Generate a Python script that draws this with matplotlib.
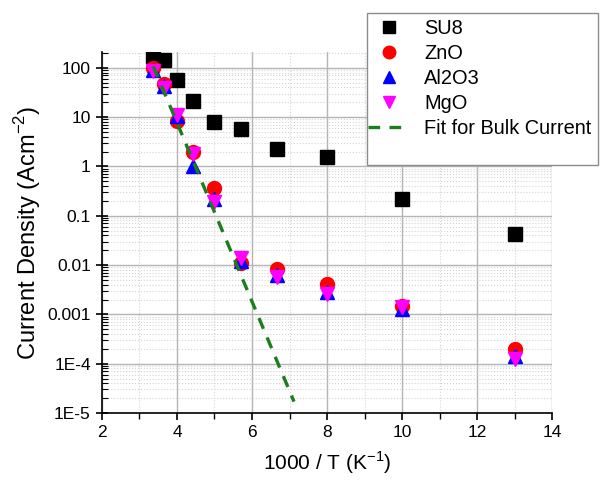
import numpy as np
import matplotlib
matplotlib.use("Agg")
import matplotlib.pyplot as plt
from matplotlib.patches import Rectangle
from matplotlib.ticker import FixedLocator, FixedFormatter, LogLocator, NullFormatter

plt.rcParams["font.family"] = ["Liberation Sans", "DejaVu Sans"]

# ------------------------------------------------------------------ #
# Data
# ------------------------------------------------------------------ #
inv_temp = [3.37, 3.66, 4.0, 4.44, 5.0, 5.71, 6.67, 8.0, 10.0, 13.0]

su8 = [175, 142, 57, 21.4, 8.1, 5.7, 2.3, 1.58, 0.215, 0.042]
zno = [97, 47, 8.4, 2.0, 0.36, 0.011, 0.0084, 0.0042, 0.0015, 1.95e-4]
al2o3 = [90, 42, 10.6, 1.03, 0.22, 0.012, 0.0062, 0.0029, 0.0013, 1.4e-4]
mgo = [88, 39, 11, 1.75, 0.19, 0.014, 0.0057, 0.0026, 0.0014, 1.23e-4]

fit_x = [3.37, 7.12]
fit_y = [107, 1.7e-5]

x_ticks = [2, 4, 6, 8, 10, 12, 14]
y_ticks = [1e-5, 1e-4, 1e-3, 1e-2, 1e-1, 1, 10, 100]
y_tick_labels = ["1E-5", "1E-4", "0.001", "0.01", "0.1", "1", "10", "100"]

# ------------------------------------------------------------------ #
# Figure
# ------------------------------------------------------------------ #
fig = plt.figure(figsize=(6.02, 4.8), dpi=100)
ax = fig.add_axes([0.1694, 0.1396, 0.7476, 0.7521])

ms = 9.5
ax.plot(inv_temp, su8, "s", color="black", ms=ms, label="SU8", zorder=3)
ax.plot(inv_temp, zno, "o", color="red", ms=ms + 0.5, label="ZnO", zorder=3)
ax.plot(inv_temp, al2o3, "^", color="blue", ms=ms + 0.5, label="Al2O3", zorder=3)
ax.plot(inv_temp, mgo, "v", color="magenta", ms=ms + 0.5, label="MgO", zorder=3)
ax.plot(fit_x, fit_y, "--", color="#1a7f1a", lw=2.4, dashes=(3.5, 2.8),
        label="Fit for Bulk Current", zorder=4)

ax.set_yscale("log")
ax.set_xlim(2, 14)
ax.set_ylim(1e-5, 10 ** 2.32)

ax.xaxis.set_major_locator(FixedLocator(x_ticks))
ax.xaxis.set_minor_locator(FixedLocator([3, 5, 7, 9, 11, 13]))
ax.yaxis.set_major_locator(FixedLocator(y_ticks))
ax.yaxis.set_major_formatter(FixedFormatter(y_tick_labels))
ax.yaxis.set_minor_locator(LogLocator(base=10, subs=np.arange(2, 10)))
ax.yaxis.set_minor_formatter(NullFormatter())

ax.grid(which="major", color="#b4b4b4", lw=1.0, ls="-")
ax.grid(which="minor", color="#d4d4d4", lw=0.8, ls=":")
ax.set_axisbelow(True)

for side in ("top", "right"):
    ax.spines[side].set_visible(False)
for side in ("left", "bottom"):
    ax.spines[side].set_linewidth(1.2)

ax.tick_params(axis="x", which="major", direction="out", length=5, width=1.2,
               labelsize=12.5)
ax.tick_params(axis="x", which="minor", direction="out", length=4, width=1.0)
ax.tick_params(axis="y", which="major", direction="inout", length=9, width=1.2,
               labelsize=12.5)
ax.tick_params(axis="y", which="minor", direction="in", length=4, width=0.8)

ax.set_xlabel("1000 / T (K$^{\\mathregular{-1}}$)", fontsize=15, labelpad=7)
ax.set_ylabel("Current Density (Acm$^{\\mathregular{-2}}$)", fontsize=17, labelpad=3)

# legend box (white, drawn over the plot area)
box = Rectangle((367 / 602, 1 - 165 / 480), 231 / 602, 152 / 480,
                transform=fig.transFigure, facecolor="white",
                edgecolor="#8c8c8c", lw=1.0, zorder=5)
fig.add_artist(box)

handles, labels = ax.get_legend_handles_labels()
leg = fig.legend(handles, labels, loc="upper left",
                 bbox_to_anchor=(368 / 602, 1 - 19 / 480),
                 bbox_transform=fig.transFigure, frameon=False,
                 fontsize=14.4, labelspacing=0.3, handlelength=2.1,
                 handletextpad=0.7, borderaxespad=0, borderpad=0.0,
                 markerscale=0.9)
leg.set_zorder(6)

fig.savefig("out.png", dpi=100)
